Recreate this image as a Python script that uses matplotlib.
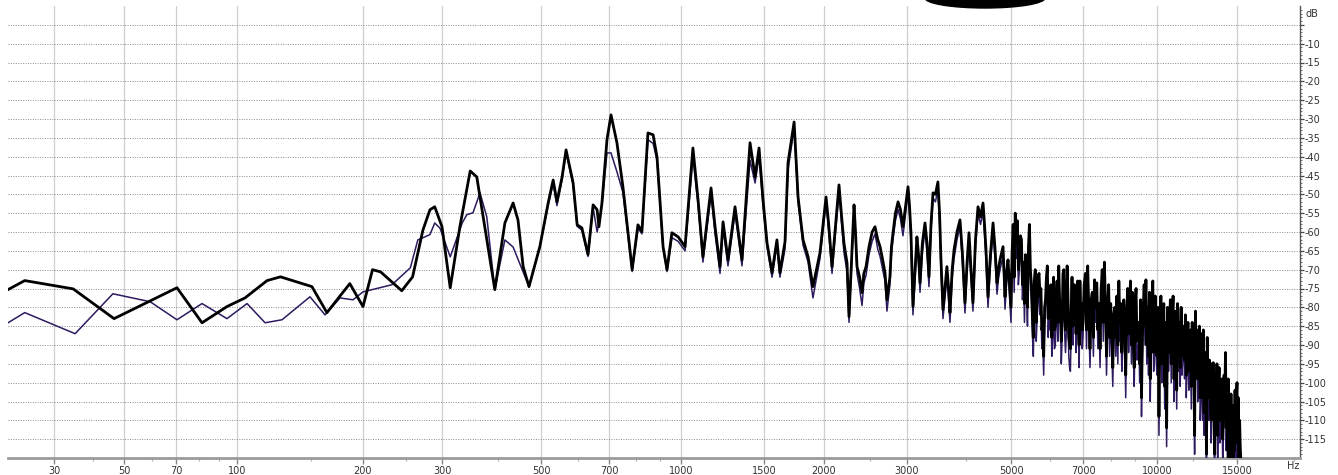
# spectrum.py
# Two overlaid frequency spectra (dB vs Hz) in the style of an audio analyser window.
import numpy as np
import matplotlib
matplotlib.use('Agg')
import matplotlib.pyplot as plt
from matplotlib.patches import Ellipse

# ---- data ----
# black (thick) trace, up to ~2 kHz
lo_freq_black = [21.4, 24.2, 34.5, 46.5, 70.4, 81.5, 94.3, 104.5, 118, 127,
                 151, 164, 186, 200, 210, 219, 244, 258, 272, 282,
                 289, 300, 313, 329, 347, 359, 371, 394, 415, 433,
                 444, 456, 470, 497, 518, 531, 541, 555, 566, 586,
                 598, 612, 631, 647, 660, 666, 676, 693, 707, 728,
                 750, 785, 808, 824, 849, 871, 888, 915, 933, 956,
                 986, 1020, 1060, 1087, 1113, 1158, 1181, 1210, 1228, 1258,
                 1302, 1347, 1401, 1436, 1464, 1493, 1522, 1559, 1596, 1619,
                 1659, 1683, 1733, 1766, 1809, 1853, 1897, 1962]
lo_db_black = [-75.3, -72.9, -75.1, -83.0, -74.8, -84.1, -79.8, -77.5, -72.9, -71.9,
               -74.5, -81.4, -73.7, -79.8, -70.0, -70.6, -75.6, -71.9, -59.5, -54.1,
               -53.3, -58.6, -74.8, -58.6, -43.8, -45.4, -56.0, -75.3, -57.6, -52.3,
               -56.8, -69.2, -74.5, -63.9, -52.3, -46.2, -52.0, -45.4, -38.2, -46.9,
               -58.1, -58.9, -66.0, -52.8, -54.1, -58.6, -52.3, -35.5, -28.9, -36.3,
               -48.0, -70.0, -58.1, -59.9, -33.7, -34.2, -40.1, -63.9, -70.0, -60.2,
               -61.3, -63.9, -37.7, -51.5, -66.6, -48.3, -58.6, -69.2, -57.3, -67.4,
               -53.3, -67.4, -36.3, -45.4, -37.7, -51.5, -62.9, -70.8, -62.1, -70.8,
               -62.6, -41.6, -30.8, -50.7, -62.1, -66.6, -74.5, -65.5]

# purple (thin) trace, up to ~2 kHz
lo_freq_purple = [21.4, 24.2, 35.0, 46.1, 59.2, 70.4, 81.5, 94.3, 105.7, 116.7,
                  128.1, 149.4, 162.3, 176.2, 189.3, 200, 232, 255, 265, 282,
                  289, 297, 313, 333, 341, 352, 365, 378, 394, 415,
                  433, 456, 470, 497, 518, 531, 541, 555, 566, 586,
                  598, 612, 631, 647, 660, 676, 693, 707, 728, 750,
                  785, 808, 824, 849, 871, 888, 915, 933, 956, 986,
                  1020, 1060, 1087, 1113, 1158, 1181, 1210, 1228, 1258, 1302,
                  1347, 1401, 1436, 1464, 1493, 1522, 1559, 1596, 1619, 1659,
                  1683, 1733, 1766, 1809, 1853, 1897, 1962]
lo_db_purple = [-84.1, -81.4, -87.0, -76.4, -78.5, -83.3, -79.0, -83.0, -79.0, -84.1,
                -83.3, -77.2, -82.0, -77.5, -78.0, -75.9, -74.0, -69.5, -62.1, -60.7,
                -57.6, -59.0, -66.6, -57.6, -55.4, -54.9, -49.6, -56.0, -75.3, -62.1,
                -64.0, -70.6, -74.5, -63.9, -53.0, -47.0, -53.0, -46.0, -38.8, -47.5,
                -58.5, -59.5, -66.5, -53.5, -60.0, -53.0, -39.0, -39.0, -44.0, -49.5,
                -70.5, -59.0, -60.5, -35.5, -36.5, -41.0, -64.5, -70.5, -61.5, -62.5,
                -65.0, -40.0, -53.0, -68.0, -50.0, -60.5, -71.0, -59.0, -69.0, -55.0,
                -69.0, -41.0, -47.0, -40.0, -53.0, -64.0, -72.0, -63.5, -72.0, -64.5,
                -43.5, -32.5, -52.0, -63.5, -68.0, -77.5, -67.0]

# 2 - 5 kHz, both traces share the frequency points
mid_freq = [2020, 2045, 2080, 2110, 2130, 2152, 2180, 2205, 2238, 2260,
            2316, 2333, 2350, 2380, 2408, 2430, 2456, 2492, 2530, 2566,
            2600, 2630, 2660, 2694, 2720, 2760, 2780, 2802, 2835, 2872,
            2905, 2942, 2980, 3015, 3037, 3059, 3089, 3150, 3175, 3198,
            3235, 3277, 3310, 3342, 3375, 3409, 3450, 3492, 3520, 3545,
            3580, 3650, 3680, 3705, 3745, 3780, 3835, 3892, 3940, 3988,
            4030, 4068, 4108, 4148, 4200, 4252, 4305, 4358, 4390, 4422,
            4466, 4520, 4578, 4620, 4668, 4700, 4737, 4808, 4830, 4855,
            4890, 4927]
mid_db_black = [-50.7, -57.6, -69.2, -60.0, -54.0, -47.5, -56.0, -63.0, -68.2, -82.5,
                -52.8, -60.0, -69.2, -72.0, -76.1, -71.0, -69.2, -63.9, -60.0, -58.6,
                -62.0, -63.9, -67.0, -70.8, -78.0, -71.9, -64.0, -60.2, -55.0, -52.0,
                -54.0, -58.6, -53.0, -48.0, -53.0, -60.2, -79.8, -61.3, -66.0, -73.5,
                -63.0, -57.6, -63.0, -71.9, -58.0, -49.6, -50.0, -46.7, -55.0, -67.4,
                -80.6, -69.2, -75.0, -81.4, -70.0, -64.7, -60.0, -56.8, -66.0, -78.8,
                -68.0, -60.2, -70.0, -78.8, -62.0, -53.3, -56.0, -52.3, -58.0, -64.7,
                -77.2, -66.0, -57.6, -64.0, -73.5, -70.0, -67.4, -63.9, -70.0, -77.2,
                -71.0, -67.4]
mid_db_purple = [-52.0, -59.5, -71.0, -62.0, -56.0, -49.0, -58.0, -65.5, -70.5, -84.0,
                 -54.5, -62.0, -71.0, -75.0, -79.5, -73.5, -71.5, -66.0, -62.5, -60.5,
                 -64.5, -66.5, -69.5, -73.0, -81.0, -74.0, -66.0, -62.0, -57.0, -54.0,
                 -56.5, -61.0, -55.0, -49.5, -55.0, -63.0, -82.0, -64.0, -68.5, -76.0,
                 -65.5, -59.5, -65.5, -74.5, -60.0, -51.0, -52.0, -48.5, -57.5, -70.0,
                 -83.0, -72.0, -78.0, -84.0, -72.5, -67.0, -62.0, -58.5, -68.5, -81.5,
                 -70.5, -62.5, -72.5, -81.0, -64.0, -55.0, -58.0, -54.5, -60.5, -67.5,
                 -80.0, -68.5, -60.0, -66.5, -76.5, -72.5, -70.0, -66.5, -72.5, -80.5,
                 -74.0, -70.0]

# 5 - 15.5 kHz, dense noisy part, shared frequency points
top_freq = [5000, 5025, 5050, 5075, 5100, 5125, 5150, 5175, 5200, 5225,
            5250, 5275, 5300, 5325, 5350, 5375, 5400, 5425, 5450, 5475,
            5500, 5525, 5550, 5575, 5600, 5625, 5650, 5675, 5700, 5725,
            5750, 5775, 5800, 5825, 5850, 5875, 5900, 5925, 5950, 5975,
            6000, 6025, 6050, 6075, 6100, 6125, 6150, 6175, 6200, 6225,
            6250, 6275, 6300, 6325, 6350, 6375, 6400, 6425, 6450, 6475,
            6500, 6525, 6550, 6575, 6600, 6625, 6650, 6675, 6700, 6725,
            6750, 6775, 6800, 6825, 6850, 6875, 6900, 6925, 6950, 6975,
            7000, 7040, 7080, 7120, 7160, 7200, 7240, 7280, 7320, 7360,
            7400, 7440, 7480, 7520, 7560, 7600, 7640, 7680, 7720, 7760,
            7800, 7840, 7880, 7920, 7960, 8000, 8040, 8080, 8120, 8160,
            8200, 8240, 8280, 8320, 8360, 8400, 8440, 8480, 8520, 8560,
            8600, 8640, 8680, 8720, 8760, 8800, 8840, 8880, 8920, 8960,
            9000, 9040, 9080, 9120, 9160, 9200, 9240, 9280, 9320, 9360,
            9400, 9440, 9480, 9520, 9560, 9600, 9640, 9680, 9720, 9760,
            9800, 9840, 9880, 9920, 9960,
            10000, 10050, 10100, 10150, 10200, 10250, 10300, 10350, 10400, 10450,
            10500, 10550, 10600, 10650, 10700, 10750, 10800, 10850, 10900, 10950,
            11000, 11050, 11100, 11150, 11200, 11250, 11300, 11350, 11400, 11450,
            11500, 11550, 11600, 11650, 11700, 11750, 11800, 11850, 11900, 11950,
            12000, 12050, 12100, 12150, 12200, 12250, 12300, 12350, 12400, 12450,
            12500, 12550, 12600, 12650, 12700, 12750, 12800, 12850, 12900, 12950,
            13000, 13050, 13100, 13150, 13200, 13250, 13300, 13350, 13400, 13450,
            13500, 13550, 13600, 13650, 13700, 13750, 13800, 13850, 13900, 13950,
            14000, 14050, 14100, 14150, 14200, 14250, 14300, 14350, 14400, 14450,
            14500, 14550, 14600, 14650, 14700, 14750, 14800, 14850, 14900, 14950,
            15000, 15050, 15100, 15150, 15200, 15250, 15300, 15350, 15400, 15450,
            15500]
top_db_black = [-80, -66, -58, -72, -55, -63, -57, -70, -66, -61,
                -62, -74, -68, -79, -66, -72, -80, -64, -58, -70,
                -74, -82, -88, -73, -70, -84, -79, -72, -71, -77,
                -75, -86, -84, -93, -80, -78, -72, -69, -83, -76,
                -81, -74, -88, -83, -72, -86, -85, -79, -73, -84,
                -69, -78, -80, -89, -83, -71, -70, -82, -86, -82,
                -69, -77, -88, -90, -91, -80, -72, -85, -80, -74,
                -76, -87, -84, -73, -79, -90, -73, -81, -79, -86,
                -84, -74, -71, -86, -69, -81, -91, -78, -76, -88,
                -72.7, -80, -73.5, -86, -79, -91, -75, -70, -84, -68,
                -79, -93, -80, -74, -88, -79, -85, -96, -82, -80,
                -88, -77, -90, -73, -84, -79, -92, -86, -78, -83,
                -98, -82, -75, -87, -80, -73, -90, -76, -88, -96,
                -79, -75, -89, -86, -84, -95, -78, -104, -88, -80,
                -74, -85, -72.7, -90, -80, -93, -76, -99, -83, -78,
                -73, -92, -86, -77, -89,
                -93, -80, -109, -84, -77, -95, -88, -79, -101, -84,
                -112, -80, -92, -86, -78, -95, -83, -77, -99, -89,
                -81, -102, -79, -92, -84, -96, -80, -93, -88, -85,
                -94, -82, -98, -90, -84, -97, -88, -86, -101, -84,
                -88, -96, -114, -81, -93, -86, -99, -93, -85, -104,
                -98, -87, -104, -86, -108, -92, -96, -119, -88, -104,
                -104, -94, -99, -110, -95, -100, -94.7, -112, -119, -98,
                -106, -95, -114, -102, -96, -110, -104, -108, -99, -115,
                -109, -98, -104, -92, -112, -104, -118, -99, -121, -110,
                -121, -103, -116, -112, -120, -106, -118, -102, -115, -104,
                -100, -116, -104, -121, -110, -117, -121, -122, -121, -122,
                -122]
top_db_purple = [-84, -70, -61, -76, -58, -67, -60, -74, -70, -64,
                 -66, -78, -72, -84, -70, -76, -85, -68, -61, -74,
                 -78, -87, -93, -77, -74, -89, -83, -76, -75, -82,
                 -79, -91, -89, -98, -85, -82, -76, -73, -88, -80,
                 -86, -78, -93, -88, -76, -91, -90, -84, -77, -89,
                 -73, -83, -85, -95, -88, -75, -74, -87, -92, -87,
                 -73, -82, -93, -96, -97, -85, -76, -90, -85, -78,
                 -80, -92, -89, -77, -84, -96, -77, -86, -84, -91,
                 -88, -78, -75, -91, -73, -85, -96, -82, -80, -93,
                 -76, -84, -77, -91, -83, -96, -79, -74, -89, -72,
                 -83, -98, -84, -78, -93, -83, -90, -101, -86, -84,
                 -93, -81, -95, -77, -89, -83, -97, -91, -82, -88,
                 -104, -87, -79, -92, -85, -77, -95, -80, -93, -101,
                 -84, -79, -94, -91, -89, -100, -83, -109, -93, -85,
                 -78, -90, -76, -95, -85, -98, -80, -105, -88, -82,
                 -77, -97, -91, -81, -94,
                 -98, -84, -114, -88, -81, -100, -93, -83, -107, -89,
                 -117, -84, -97, -91, -82, -100, -88, -81, -105, -94,
                 -85, -107, -83, -97, -89, -101, -84, -98, -93, -90,
                 -99, -87, -104, -95, -89, -102, -93, -91, -107, -89,
                 -93, -102, -119, -86, -99, -91, -105, -99, -90, -110,
                 -104, -92, -110, -91, -114, -98, -102, -123, -93, -110,
                 -110, -100, -105, -116, -101, -106, -100, -118, -123, -104,
                 -112, -100, -120, -108, -102, -116, -110, -114, -105, -121,
                 -115, -104, -110, -97, -118, -110, -123, -105, -123, -116,
                 -123, -109, -122, -118, -123, -112, -123, -108, -121, -110,
                 -105, -122, -110, -123, -116, -123, -123, -123, -123, -123,
                 -123]

x_ticks = [30, 50, 70, 100, 200, 300, 500, 700, 1000, 1500, 2000, 3000, 5000, 7000, 10000, 15000]
x_minor = [40, 60, 80, 90, 150, 250, 400, 600, 800, 900, 2500, 4000, 6000, 8000, 9000, 12000, 20000]
y_ticks = list(range(-115, -4, 5))

# ---- the frequency ruler is not a clean log scale, so warp it ----
ruler_freq = [21.4, 30, 50, 70, 100, 200, 300, 500, 700, 1000, 1500, 2000, 3000, 5000, 7000, 10000, 15000, 20650]
ruler_pos = [8, 54, 124, 176, 237, 363, 442, 541, 609, 681, 764, 824, 907, 1011, 1083, 1157, 1237, 1300]
lu = np.log10(ruler_freq)


def fwd(x):
    u = np.log10(np.clip(np.asarray(x, float), 1e-3, None))
    p = np.interp(u, lu, ruler_pos)
    p = np.where(u < lu[0], ruler_pos[0] + (u - lu[0]) * 313.6, p)
    p = np.where(u > lu[-1], ruler_pos[-1] + (u - lu[-1]) * 453.0, p)
    return p


def inv(p):
    p = np.asarray(p, float)
    u = np.interp(p, ruler_pos, lu)
    u = np.where(p < ruler_pos[0], lu[0] + (p - ruler_pos[0]) / 313.6, u)
    u = np.where(p > ruler_pos[-1], lu[-1] + (p - ruler_pos[-1]) / 453.0, u)
    return 10 ** u


W, H = 1338, 475
fig = plt.figure(figsize=(W / 100, H / 100), dpi=100, facecolor='white')
ax = fig.add_axes([8 / W, 17 / H, 1292 / W, 452 / H])
ax.set_xscale('function', functions=(fwd, inv))

freq_black = lo_freq_black + mid_freq + top_freq
db_black = lo_db_black + mid_db_black + top_db_black
freq_purple = lo_freq_purple + mid_freq + top_freq
db_purple = lo_db_purple + mid_db_purple + top_db_purple

ax.plot(freq_purple, db_purple, color='#2e1a5e', lw=1.1, zorder=3)
ax.plot(freq_black, db_black, color='black', lw=2.0, zorder=4)

ax.set_xlim(21.4, 20650)
ax.set_ylim(-120, 0)

# x ruler
ax.set_xticks(x_ticks)
ax.set_xticklabels([str(t) for t in x_ticks])
ax.set_xticks(x_minor, minor=True)
ax.xaxis.set_minor_formatter(plt.NullFormatter())
ax.tick_params(axis='x', which='major', length=4, width=1, color='#888888',
               labelsize=7, labelcolor='#333333', pad=2)
ax.tick_params(axis='x', which='minor', length=2, width=0.8, color='#aaaaaa')

# dB ruler on the right
ax.yaxis.tick_right()
ax.set_yticks(y_ticks)
ax.set_yticklabels(['' if t == -5 else str(t) for t in y_ticks])
ax.set_yticks(np.arange(-119, 0, 1), minor=True)
ax.tick_params(axis='y', which='major', length=3, width=0.9, color='#444444',
               labelsize=7, labelcolor='#333333', pad=0.5)
ax.tick_params(axis='y', which='minor', length=1.5, width=0.6, color='#555555')

ax.grid(axis='x', which='major', color='#cfcfcf', lw=0.9, ls='-', zorder=0)
ax.grid(axis='y', which='major', color='#8a8a8a', lw=0.7, ls=(0, (1, 1.5)), zorder=0)
ax.set_axisbelow(True)

for side in ['top', 'left']:
    ax.spines[side].set_visible(False)
ax.spines['bottom'].set_color('#9a9a9a')
ax.spines['bottom'].set_linewidth(2)
ax.spines['right'].set_color('#555555')
ax.spines['right'].set_linewidth(1)

fig.text(1306 / W, 1 - 14 / H, 'dB', fontsize=7, color='#333333', ha='left', va='center')
fig.text(1293 / W, 1 - 466 / H, 'Hz', fontsize=7, color='#333333', ha='center', va='center')

# dark smudge at the top edge of the screenshot
fig.add_artist(Ellipse((985 / W, 1 + 2 / H), 120 / W, 20 / H,
                       transform=fig.transFigure, color='black', zorder=10))

fig.savefig('out.png', dpi=100, facecolor='white')
